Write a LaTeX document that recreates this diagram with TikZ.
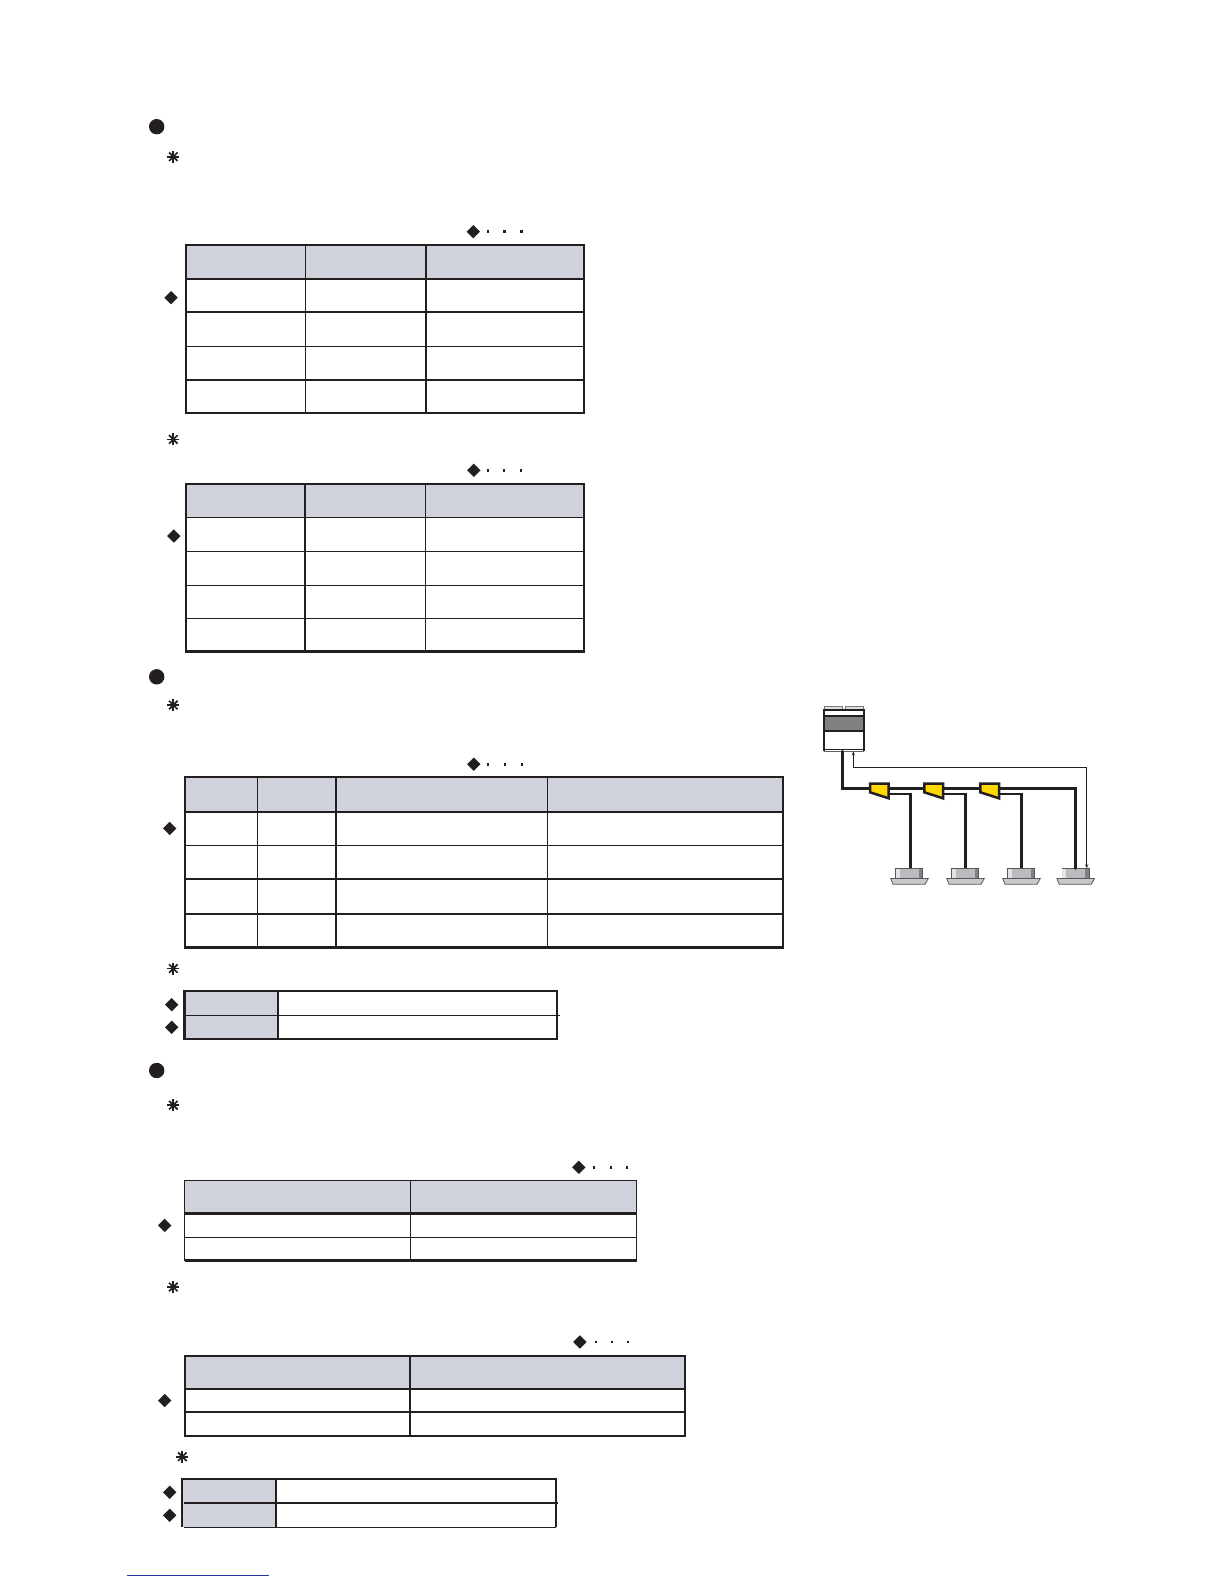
\documentclass[tikz,border=0pt]{standalone}
\usepackage{tikz}
\usetikzlibrary{arrows.meta}
\definecolor{ink}{HTML}{231F20}
\definecolor{headgray}{HTML}{CFD2DA}
\definecolor{bandgray}{HTML}{808082}
\definecolor{capgray}{HTML}{DDDEDE}
\definecolor{unitgray}{HTML}{B9BBC0}
\definecolor{stripgray}{HTML}{7F8082}
\definecolor{panelgray}{HTML}{C8C9CB}
\definecolor{boxyellow}{HTML}{FFD800}
\definecolor{linkblue}{HTML}{2B35A8}
\tikzset{
	frameline/.style={ink, line width=2.1pt},
	pipe/.style={ink, line width=3pt},
	branch/.style={ink, line width=1.9pt},
	signal/.style={ink, line width=0.9pt},
	indoor/.style={draw=ink!75, line width=0.8pt, fill=unitgray, minimum width=27pt, minimum height=9.6pt, inner sep=0pt, outer sep=0pt, anchor=north west},
	outdoor/.style={minimum width=40.6pt, minimum height=41pt, inner sep=0pt, outer sep=0pt, anchor=north west},
}
% #1 frame width, #2 x left, #3 y top, #4 x right, #5 y bottom, #6 y under header, #7 inner columns x/width, #8 inner rows y/width
\newcommand{\formtable}[8][2.1]{
	\fill[headgray] (#2,#3) rectangle (#4,#6);
	\foreach \x/\w in {#7} {
		\draw[ink, line width=\w pt] (\x,#3) -- (\x,#5);
	};
	\foreach \y/\w in {#8} {
		\draw[ink, line width=\w pt] (#2,\y) -- (#4,\y);
	};
	\draw[ink, line width=#1pt] (#2,#3) rectangle (#4,#5);
}
\begin{document}
\begin{tikzpicture}[x=1pt, y=-1pt]
\useasboundingbox (0,0) rectangle (1224,1584);
% section bullets
\foreach \y in {126.7, 676.8, 1070.5} {
	\fill[ink] (156.7,\y) circle (7.7);
	};
% asterisks
\foreach \x/\y in {173.3/156.7, 173.3/439.4, 173.3/705, 173.3/968.5, 173.3/1105.2, 173.3/1287, 182.3/1456.7} {
	\foreach \a in {0,45,...,135} {
		\draw[ink, line width=1.7pt] (\x,\y) ++(\a:6) -- ++(\a+180:12);
		};
	};
% diamonds
\foreach \x/\y in {473.3/231.7, 171/297.7, 473.8/470.3, 173.8/536, 473.8/764.2, 169.7/828.4, 171.7/1004.7, 171.7/1027.3, 578.8/1167.3, 164.7/1225.4, 579.9/1342, 164.7/1400.5, 169.7/1492.3, 169.7/1515.3} {
	\fill[ink] (\x,\y) ++(-6.7,0) -- ++(6.7,-6.7) -- ++(6.7,6.7) -- ++(-6.7,6.7) -- cycle;
	};
% dots after the diamonds
\foreach \y/\a/\b/\c in {231.7/488/504.3/521.3, 470.3/488/504/521, 764.2/488/505/522, 1167.3/594/611/627, 1342/596/612/628} {
	\foreach \x in {\a,\b,\c} {
		\fill[ink] (\x-1.3,\y-1.3) rectangle ++(2.6,2.6);
		};
	};
% tables
\formtable{186}{244.7}{584}{413}{278.7}{305.3/1.2, 426/2.1}{278.7/2.1, 312/1.2, 346.5/1.2, 380/1.2}
\formtable{186}{484}{584}{651.5}{517.5}{305/1.2, 425.5/1.2}{517.5/1.2, 551.5/1.2, 585.5/1.2, 618.5/1.2}
\formtable{185}{777}{783}{947.5}{812}{257.4/1.2, 336/2.1, 547.4/1.2}{812/2.1, 845.5/1.2, 879/1.2, 914/1.2}
\formtable[1.3]{184.5}{1180.5}{636.5}{1260.5}{1213.5}{410.3/1.2}{1213.5/2.1, 1237.5/1.2}
\draw[frameline] (184.5,1260.5) -- (636.5,1260.5);
\formtable{185}{1356}{685}{1435.7}{1389}{410/1.2}{1389/2.1, 1412/1.2}
% tables with a gray first column
\fill[headgray] (184.5,991) rectangle (278,1038.7);
\draw[frameline] (184.5,991) rectangle (557.3,1038.7);
\draw[frameline] (278,991) -- (278,1038.7);
\draw[ink, line width=1pt] (186,1015.3) -- (560,1015.3);
\fill[headgray] (183,1478.7) rectangle (276,1527);
\draw[frameline] (276,1478.7) -- (276,1527.3);
\draw[frameline] (556,1527.3) -- (556,1478.7) -- (182,1478.7) -- (182,1527.3);
\draw[frameline] (184,1502.7) -- (558,1502.7);
\draw[ink, line width=1.1pt] (184,1527.3) -- (556,1527.3);
% outdoor unit
\fill[capgray, draw=ink!60, line width=0.5pt] (824.3,706.3) rectangle (842.7,710.3);
\fill[capgray, draw=ink!60, line width=0.5pt] (845.3,706.3) rectangle (863.7,710.3);
\node[outdoor] (unit) at (823.7,710.3) {};
\fill[bandgray] (824,716) rectangle (864,731);
\draw[ink, line width=1.6pt] (823.7,716) -- (864.3,716);
\draw[ink, line width=1.2pt] (823.7,731) -- (864.3,731);
\draw[ink, line width=1pt] (823.7,749.2) -- (864.3,749.2);
\draw[ink!70, line width=0.9pt] (823.7,751.3) -- (864.3,751.3);
\draw[ink, line width=2.2pt] (823.7,751.3) -- (unit.north west) -- (unit.north east) -- (864.3,751.3);
% indoor units
\coordinate (unitout) at (842.7,751.3);
\coordinate (unitin) at (853.3,751.3);
\foreach \n/\x in {1/895.7, 2/951.7, 3/1007.7, 4/1061.9} {
	\node[indoor] (in\n) at (\x,868.3) {};
	\fill[stripgray] (\x+23.4,868.8) rectangle (\x+26.6,877.5);
	\fill[white!60!unitgray] (\x+0.4,868.8) rectangle (\x+4,877.5);
	\draw[ink!75, line width=0.8pt, fill=panelgray] (\x-5,878.4) -- (\x+32.6,878.4) -- (\x+29.3,884.3) -- (\x-2.7,884.3) -- cycle;
	};
% pipes and branch boxes
\draw[pipe, line cap=round] (unitout) |- (1075.4,788.3) -- (1075.4,868.3);
\foreach \n/\x/\d in {1/870/910.3, 2/924.3/965.3, 3/980.3/1021} {
	\coordinate (box\n) at (\x+18.7,793.6);
	\coordinate (drop\n) at (\d,868.3);
	\draw[branch] (box\n) -- (drop\n |- box\n);
	\draw[pipe] (drop\n |- box\n) ++(0,-1) -- (drop\n);
	\draw[ink, fill=boxyellow, line width=2.5pt] (\x,783.7) -- (\x+18.7,783.7) -- (\x+18.7,798.3) -- (\x,792.3) -- cycle;
	};
% signal line
\draw[signal, -{Stealth[length=4pt,width=3pt]}] (1086.7,767.3) -- (1086.7,868.3);
\draw[signal, -{Stealth[length=4pt,width=3pt]}] (1086.7,767.3) -- (853.3,767.3) -- (unitin);
% link line at the foot of the page
\draw[linkblue, line width=0.9pt] (127.3,1575) -- (268.7,1575);
\end{tikzpicture}
\end{document}
